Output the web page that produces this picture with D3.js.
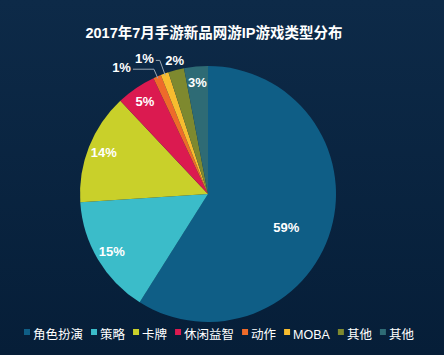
<!DOCTYPE html>
<html><head><meta charset="utf-8">
<script src="https://cdn.jsdelivr.net/npm/d3@7/dist/d3.min.js"></script>
<style>body{margin:0;background:#0a2440;}svg{display:block;}</style>
</head><body>
<svg id="c" width="444" height="355"></svg>
<script>
const title = "2017年7月手游新品网游IP游戏类型分布";
const categories = ["角色扮演","策略","卡牌","休闲益智","动作","MOBA","其他","其他"];
const values = [58.9, 15, 14, 5, 1, 1, 2, 3];
const labels = ["59%","15%","14%","5%","1%","1%","2%","3%"];
const colors = ["#0f5e86","#3bbcc9","#c9d02a","#db1a50","#ee6b2a","#f7bc2f","#7e892f","#2e6b75"];

const W = 444, H = 355;
const svg = d3.select("#c");
const defs = svg.append("defs");
const bg = defs.append("linearGradient").attr("id","bg").attr("x1",0).attr("y1",0).attr("x2",0).attr("y2",1);
bg.append("stop").attr("offset","0%").attr("stop-color","#0d2a48");
bg.append("stop").attr("offset","100%").attr("stop-color","#061e38");
svg.append("rect").attr("width",W).attr("height",H).attr("fill","url(#bg)");

const font = "'Liberation Sans','Noto Sans CJK SC',Arial,sans-serif";
svg.append("text").attr("x",214).attr("y",38).attr("text-anchor","middle")
  .attr("fill","#fff").attr("font-family",font).attr("font-weight","bold").attr("font-size",14.5)
  .text(title);

const cx = 208, cy = 194, R = 128;
const pie = d3.pie().sort(null).value(d => d)(values);
const arc = d3.arc().innerRadius(0).outerRadius(R);
const g = svg.append("g").attr("transform",`translate(${cx},${cy})`);
g.selectAll("path").data(pie).join("path").attr("d",arc).attr("fill",(d,i)=>colors[i]);

const ptAt = (a, r) => [Math.sin(a)*r, -Math.cos(a)*r];
const mid = d => (d.startAngle + d.endAngle)/2;
const lab = g.append("g").attr("font-family",font).attr("font-weight","bold").attr("font-size",13).attr("fill","#fff");
pie.forEach((d,i) => {
  const frac = values[i]/d3.sum(values);
  if (frac >= 0.025) {
    const lr = frac > 0.5 ? 85 : 112;
    const a = frac > 0.5 ? mid(d) + 0.12 : mid(d);
    const p = ptAt(a, lr);
    lab.append("text").attr("x",p[0]).attr("y",p[1]).attr("dy","0.35em").attr("text-anchor","middle").text(labels[i]);
  }
});
// outside labels with leader lines: [elbow radius offset, horizontal length]
const outside = {4: [8, 21], 5: [14, 4], 6: [10, 0]};
Object.keys(outside).forEach(k => {
  const i = +k, d = pie[i];
  const [ro, h] = outside[k];
  const p1 = ptAt(mid(d), R - 2), p2 = ptAt(mid(d), R + ro);
  if (h > 0) {
    const p3 = [p2[0]-h, p2[1]];
    g.append("polyline").attr("points",[p1,p2,p3].map(p=>p.join(",")).join(" "))
      .attr("fill","none").attr("stroke","#9aa6b3").attr("stroke-width",1);
    lab.append("text").attr("x",p3[0]-2).attr("y",p3[1]-2).attr("dy","0.35em").attr("text-anchor","end").text(labels[i]);
  } else {
    lab.append("text").attr("x",p2[0]+1).attr("y",p2[1]).attr("dy","0.35em").attr("text-anchor","middle").text(labels[i]);
  }
});

// legend
const leg = svg.append("g").attr("font-family",font).attr("font-size",12.5).attr("fill","#fff");
let x = 24;
categories.forEach((c,i) => {
  leg.append("rect").attr("x",x).attr("y",329).attr("width",6).attr("height",6).attr("fill",colors[i]);
  const t = leg.append("text").attr("x",x+9).attr("y",339).text(c);
  x += 9 + t.node().getComputedTextLength() + 8;
});
</script>
</body></html>
